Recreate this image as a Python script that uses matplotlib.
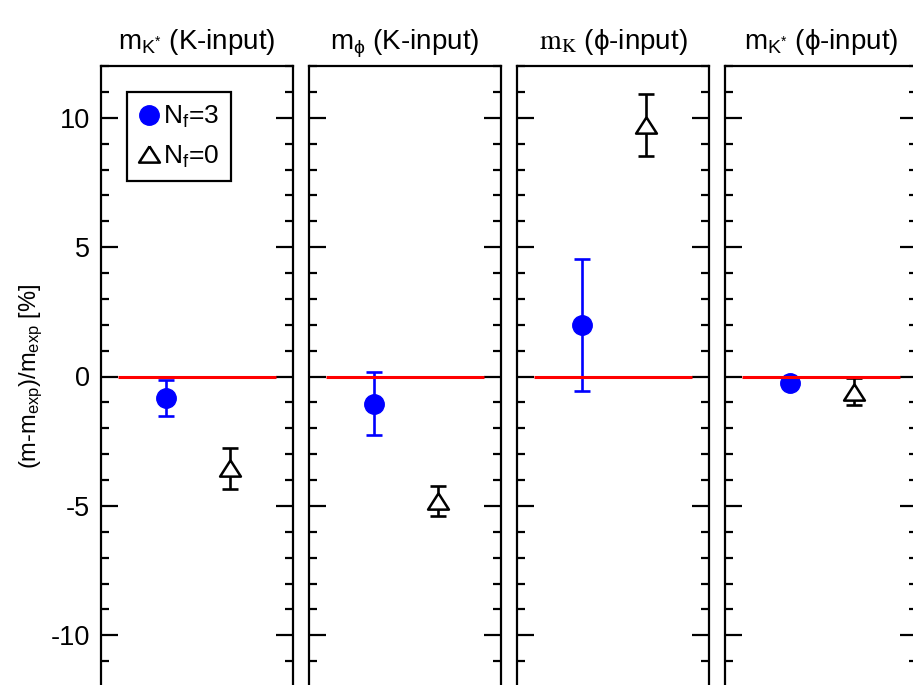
import matplotlib
matplotlib.use('Agg')
import matplotlib.pyplot as plt
from matplotlib.lines import Line2D
from matplotlib.ticker import MultipleLocator

# ---- data ----
panel_titles = [r'm$_{\mathrm{K}^{*}}$ (K-input)',
                r'm$_{\mathrm{ϕ}}$ (K-input)',
                r'$\mathrm{m}_{\mathrm{K}}$ (ϕ-input)',
                r'm$_{\mathrm{K}^{*}}$ (ϕ-input)']
nf3_values = [-0.83, -1.05, 2.0, -0.26]
nf3_errors = [0.71, 1.23, 2.55, 0.15]
nf0_values = [-3.55, -4.82, 9.72, -0.58]
nf0_errors = [0.78, 0.58, 1.2, 0.52]
legend_labels = [r'N$_{\mathrm{f}}$=3', r'N$_{\mathrm{f}}$=0']
ylabel_text = r'(m-m$_{\mathrm{exp}}$)/m$_{\mathrm{exp}}$ [%]'

plt.rcParams['font.family'] = ['Liberation Sans', 'DejaVu Sans']
plt.rcParams['mathtext.fontset'] = 'custom'
plt.rcParams['mathtext.rm'] = 'Liberation Sans'
plt.rcParams['mathtext.it'] = 'Liberation Sans:italic'
plt.rcParams['mathtext.bf'] = 'Liberation Sans:bold'

W, H = 913, 685
fig = plt.figure(figsize=(W / 100, H / 100), dpi=100)

x_nf3, x_nf0 = 0.34, 0.672
tri = [(0, 0.78), (-1, -0.78), (1, -0.78), (0, 0.78)]

axes = []
for i in range(4):
    left = (101 + i * 208) / W
    ax = fig.add_axes([left, -2 / H, 192 / W, 621 / H])
    axes.append(ax)
    ax.set_xlim(0, 1)
    ax.set_ylim(-12, 12)
    for s in ax.spines.values():
        s.set_linewidth(1.6)
    ax.set_xticks([])
    ax.yaxis.set_major_locator(MultipleLocator(5))
    ax.yaxis.set_minor_locator(MultipleLocator(1))
    ax.tick_params(axis='y', which='both', direction='in', left=True, right=True,
                   labelleft=(i == 0), labelsize=19.5, pad=8)
    ax.tick_params(axis='y', which='major', length=12, width=1.6)
    ax.tick_params(axis='y', which='minor', length=6, width=1.6)

    ax.hlines(0, 0.09, 0.91, color='red', lw=2.2, zorder=4)
    ax.errorbar([x_nf3], [nf3_values[i]], yerr=[nf3_errors[i]], fmt='o', ms=14,
                color='blue', mec='blue', ecolor='blue', elinewidth=1.9,
                capsize=6, capthick=1.9, zorder=3)
    ax.errorbar([x_nf0], [nf0_values[i]], yerr=[nf0_errors[i]], fmt='none',
                ecolor='black', elinewidth=1.9, capsize=6, capthick=1.9, zorder=3)
    ax.plot([x_nf0], [nf0_values[i]], marker=tri, ms=15, mfc='white', mec='black',
            mew=1.8, ls='none', zorder=3.5)

    t = ax.set_title(panel_titles[i], fontsize=20, pad=12)
    if i == 2:
        t.set_math_fontfamily('stix')

axes[0].set_yticks([-10, -5, 0, 5, 10])
axes[0].set_yticklabels(['-10', '-5', '0', '5', '10'])
axes[0].set_ylabel(ylabel_text, fontsize=17, labelpad=4)

handles = [Line2D([], [], marker='o', ms=14, color='blue', ls='none'),
           Line2D([], [], marker=tri, ms=15, mfc='white', mec='black', mew=1.8, ls='none')]
leg = axes[0].legend(handles, legend_labels, loc='upper left',
                     bbox_to_anchor=(0.135, 0.958), fontsize=19, frameon=True,
                     fancybox=False, framealpha=1, edgecolor='black',
                     handlelength=0.8, handletextpad=0.1, borderpad=0.45,
                     labelspacing=0.5, borderaxespad=0)
leg.get_frame().set_linewidth(1.6)

fig.savefig('out.png', dpi=100)
